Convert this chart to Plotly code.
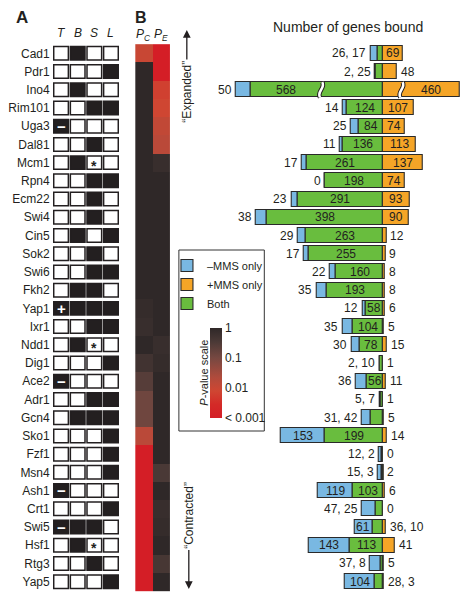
import plotly.graph_objects as go

# ---------------- data ----------------
genes = ["Cad1", "Pdr1", "Ino4", "Rim101", "Uga3", "Dal81", "Mcm1", "Rpn4", "Ecm22", "Swi4",
         "Cin5", "Sok2", "Swi6", "Fkh2", "Yap1", "Ixr1", "Ndd1", "Dig1", "Ace2", "Adr1",
         "Gcn4", "Sko1", "Fzf1", "Msn4", "Ash1", "Crt1", "Swi5", "Hsf1", "Rtg3", "Yap5"]

# Panel A: T, B, S, L membership (1 = filled)
columns_A = ["T", "B", "S", "L"]
col_T = [0, 0, 0, 0, 1, 0, 0, 0, 0, 0, 0, 0, 0, 0, 1, 0, 0, 0, 1, 0, 0, 0, 0, 0, 1, 0, 1, 0, 0, 0]
col_B = [1, 0, 1, 0, 0, 0, 1, 0, 0, 0, 1, 0, 0, 1, 1, 0, 1, 0, 0, 0, 1, 0, 0, 0, 0, 0, 1, 1, 0, 0]
col_S = [0, 0, 0, 1, 0, 1, 0, 1, 1, 1, 0, 1, 1, 1, 1, 1, 0, 0, 0, 1, 1, 0, 0, 0, 0, 0, 1, 0, 1, 0]
col_L = [0, 1, 0, 1, 0, 0, 0, 1, 0, 0, 1, 0, 1, 0, 1, 1, 0, 1, 0, 1, 1, 1, 1, 1, 0, 1, 0, 0, 0, 1]
t_sign = ["", "", "", "", "−", "", "", "", "", "", "", "", "", "", "+", "", "", "", "−", "",
          "", "", "", "", "−", "", "−", "", "", ""]
s_star = [0, 0, 0, 0, 0, 0, 1, 0, 0, 0, 0, 0, 0, 0, 0, 0, 1, 0, 0, 0, 0, 0, 0, 0, 0, 0, 0, 1, 0, 0]

# Panel B: log10 P-values
pc_log10p = [-2.0, 0, 0, 0, 0, 0, 0, 0, 0, 0, 0, 0, 0, 0, -0.1, -0.15, 0, -0.3, -0.6, -0.9,
             -0.9, -1.8, -3, -3, -3, -3, -3, -3, -3, -3]
pe_log10p = [-3, -3, -2.2, -2.1, -1.9, -1.8, -0.15, 0, 0, 0, 0, 0, 0, 0, 0, 0, -0.15, -0.1, 0, 0,
             0, 0, 0, -0.45, 0, -0.15, -0.1, 0, -0.4, 0]
pvalue_tickvals = [0, -1, -2, -3]
pvalue_ticktext = ["1", "0.1", "0.01", "&lt; 0.001"]

# Number of genes bound
minus_mms_only = [26, 2, 50, 14, 25, 11, 17, 0, 23, 38, 29, 17, 22, 35, 12, 35, 30, 2, 36, 5,
                  31, 153, 12, 15, 119, 47, 61, 143, 37, 104]
both = [17, 25, 568, 124, 84, 136, 261, 198, 291, 398, 263, 255, 160, 193, 58, 104, 78, 10, 56, 7,
        42, 199, 2, 3, 103, 25, 36, 113, 8, 28]
plus_mms_only = [69, 48, 460, 107, 74, 113, 137, 74, 93, 90, 12, 9, 8, 8, 6, 5, 15, 1, 11, 1,
                 5, 14, 0, 2, 6, 0, 10, 41, 5, 3]
series_names = ["–MMS only", "+MMS only", "Both"]

# ---------------- layout helpers ----------------
OFF = 8                      # page body margin
W, H = 468 - 2 * OFF, 600 - 2 * OFF
FONT = "Liberation Sans, Arial, Helvetica, sans-serif"
DARK = "#231f20"
BLUE, ORANGE, GREEN = "#79b8e2", "#f5a527", "#69bd3e"


def px(x):
    return (x - OFF) / W


def py(y):
    return 1 - (y - OFF) / H


ROW0, PITCH = 53.3, 18.22
n = len(genes)
rows = list(range(n))
y_range = [(H - (ROW0 - OFF)) / PITCH, -(ROW0 - OFF) / PITCH]

CENTER_PX, SCALE, X3_L, X3_R = 382.3, 0.293, 190, 460
x3_range = [(X3_L - CENTER_PX) / SCALE, (X3_R - CENTER_PX) / SCALE]
GREEN_CAP, ORANGE_CAP = 455, 265       # axis break: displayed length caps
BREAK_G_X, BREAK_O_X = -212, 64       # position of the break marks

g_disp = [min(v, GREEN_CAP) for v in both]
o_disp = [min(v, ORANGE_CAP) for v in plus_mms_only]

fig = go.Figure()

# anchor trace for panel A axes
fig.add_trace(go.Scatter(x=[0], y=[0], xaxis="x", yaxis="y", mode="markers",
                         marker=dict(opacity=0), showlegend=False, hoverinfo="skip"))

# Panel B heatmap
fig.add_trace(go.Heatmap(
    z=[[pc_log10p[i], pe_log10p[i]] for i in rows], x=[0, 1], y=rows,
    xaxis="x2", yaxis="y", zmin=-3, zmax=0,
    colorscale=[[0, "#d41e26"], [0.15, "#d42a27"], [0.3, "#cf4632"], [0.45, "#b04b3c"],
                [0.67, "#764841"], [0.85, "#4a3936"], [1, "#2f2828"]],
    showscale=True, hoverinfo="skip",
    colorbar=dict(x=px(208), xanchor="left", y=py(373), yanchor="middle",
                  len=90, lenmode="pixels", thickness=12, thicknessmode="pixels",
                  outlinewidth=0, tickvals=pvalue_tickvals, ticktext=pvalue_ticktext,
                  ticks="", tickfont=dict(size=12, color=DARK, family=FONT), xpad=0, ypad=0)))

edge = dict(color="#2a2a2a", width=1.1)
fig.add_trace(go.Bar(name=series_names[0], y=rows, x=minus_mms_only,
                     base=[-(g + b) for g, b in zip(g_disp, minus_mms_only)],
                     orientation="h", xaxis="x3", yaxis="y", width=0.82, opacity=1,
                     marker=dict(color=BLUE, line=edge), hoverinfo="skip"))
fig.add_trace(go.Bar(name=series_names[1], y=rows, x=o_disp, base=[0] * n,
                     orientation="h", xaxis="x3", yaxis="y", width=0.82, opacity=1,
                     marker=dict(color=ORANGE, line=edge), hoverinfo="skip"))
fig.add_trace(go.Bar(name=series_names[2], y=rows, x=g_disp, base=[-g for g in g_disp],
                     orientation="h", xaxis="x3", yaxis="y", width=0.82, opacity=1,
                     marker=dict(color=GREEN, line=edge), hoverinfo="skip"))

shapes = []
annotations = []


def paper_text(x, y, text, size=12, angle=0, **kw):
    d = dict(x=px(x), y=py(y), xref="paper", yref="paper", text=text, showarrow=False,
             xanchor="center", yanchor="middle", textangle=angle,
             font=dict(size=size, color=DARK, family=FONT))
    d.update(kw)
    annotations.append(d)


# Panel A cells
cols = [col_T, col_B, col_S, col_L]
for c, col in enumerate(cols):
    for i in rows:
        filled = col[i] == 1
        shapes.append(dict(type="rect", xref="x", yref="y",
                           x0=c - 0.44, x1=c + 0.44, y0=i - 0.37, y1=i + 0.37,
                           fillcolor=DARK if filled else "white",
                           line=dict(color=DARK, width=1.5), layer="above"))
for i in rows:
    if t_sign[i]:
        annotations.append(dict(x=0, y=i, xref="x", yref="y", text="<b>%s</b>" % t_sign[i],
                                showarrow=False, font=dict(size=15, color="white", family=FONT)))
    if s_star[i]:
        annotations.append(dict(x=2, y=i, xref="x", yref="y", text="<b>*</b>", yshift=-3,
                                showarrow=False, font=dict(size=14, color=DARK, family=FONT)))
for c, name in enumerate(columns_A):
    annotations.append(dict(x=c, y=py(33), xref="x", yref="paper", text="<i>%s</i>" % name,
                            xanchor="center", yanchor="middle",
                            showarrow=False, font=dict(size=12, color=DARK, family=FONT)))
for c, name in enumerate(["C", "E"]):
    annotations.append(dict(x=c, y=py(35), xref="x2", yref="paper",
                            text="<i>P</i><sub><i>%s</i></sub>" % name,
                            xanchor="center", yanchor="middle",
                            showarrow=False, font=dict(size=12, color=DARK, family=FONT)))

# panel letters, title
paper_text(19, 18, "<b>A</b>", size=17)
paper_text(139, 17, "<b>B</b>", size=16)
paper_text(347, 27, "Number of genes bound", size=14)

# Expanded / Contracted (arrow drawn from the label to the tip)
annotations.append(dict(x=px(185), y=py(30), xref="paper", yref="paper", text="“Expanded”",
                        textangle=-90, showarrow=True, ax=0, ay=62, arrowhead=2,
                        arrowsize=1.2, arrowwidth=1.3, arrowcolor=DARK, standoff=0,
                        font=dict(size=12, color=DARK, family=FONT)))
annotations.append(dict(x=px(187), y=py(589), xref="paper", yref="paper", text="“Contracted”",
                        textangle=-90, showarrow=True, ax=0, ay=-74, arrowhead=2,
                        arrowsize=1.2, arrowwidth=1.3, arrowcolor=DARK, standoff=0,
                        font=dict(size=12, color=DARK, family=FONT)))

# bar labels
for i in rows:
    b, g, o = minus_mms_only[i], both[i], plus_mms_only[i]
    gd, od = g_disp[i], o_disp[i]
    blue_in, green_in, orange_in = b >= 60, g >= 56, o >= 69
    left, right = [], []
    if not blue_in:
        left.append(str(b))
    if not green_in:
        (right if blue_in else left).append(str(g))
    if not orange_in:
        right.append(str(o))
    f = dict(size=12, color=DARK, family=FONT)
    if blue_in:
        annotations.append(dict(x=-(gd + b / 2), y=i, xref="x3", yref="y", text=str(b),
                                showarrow=False, font=f))
    if green_in:
        gx = (-gd + BREAK_G_X) / 2 if g > GREEN_CAP else -gd / 2
        annotations.append(dict(x=gx, y=i, xref="x3", yref="y", text=str(g),
                                showarrow=False, font=f))
    if orange_in:
        ox = (od + BREAK_O_X) / 2 if o > ORANGE_CAP else od / 2
        annotations.append(dict(x=ox, y=i, xref="x3", yref="y", text=str(o),
                                showarrow=False, font=f))
    if left:
        annotations.append(dict(x=-(gd + b), y=i, xref="x3", yref="y", text=", ".join(left),
                                xanchor="right", xshift=-2, showarrow=False, font=f))
    if right:
        annotations.append(dict(x=od, y=i, xref="x3", yref="y", text=", ".join(right),
                                xanchor="left", xshift=2, showarrow=False, font=f))
    # axis-break marks
    for bx, broken in ((BREAK_G_X, g > GREEN_CAP), (BREAK_O_X, o > ORANGE_CAP)):
        if not broken:
            continue
        path = "M %f,%f C %f,%f %f,%f %f,%f" % (bx + 4, i - 0.42, bx + 16, i - 0.1,
                                               bx - 16, i + 0.1, bx - 4, i + 0.42)
        shapes.append(dict(type="path", xref="x3", yref="y", path=path,
                           line=dict(color=DARK, width=4.5), layer="above"))
        shapes.append(dict(type="path", xref="x3", yref="y", path=path,
                           line=dict(color="white", width=2.5), layer="above"))

# legend box
shapes.append(dict(type="rect", xref="paper", yref="paper", x0=px(177), x1=px(263),
                   y0=py(431), y1=py(250), line=dict(color="#333333", width=1),
                   fillcolor="rgba(0,0,0,0)", layer="above"))
paper_text(202, 373, "<i>P</i>-value scale", size=11, angle=-90)

noax = dict(visible=False, showgrid=False, zeroline=False, fixedrange=True)
fig.update_layout(
    width=W, height=H, margin=dict(l=0, r=0, t=0, b=0),
    paper_bgcolor="white", plot_bgcolor="white",
    font=dict(family=FONT, color=DARK, size=12),
    barmode="overlay", bargap=0,
    showlegend=True,
    legend=dict(x=px(165), y=py(251), xanchor="left", yanchor="top",
                bgcolor="rgba(0,0,0,0)", borderwidth=0, traceorder="normal",
                font=dict(size=11, color=DARK, family=FONT), itemwidth=30,
                tracegroupgap=0),
    xaxis=dict(domain=[px(50), px(117)], range=[-0.5, 3.5], anchor="y", **noax),
    xaxis2=dict(domain=[px(133), px(168)], range=[-0.5, 1.5], anchor="y", **noax),
    xaxis3=dict(domain=[px(X3_L), px(X3_R)], range=x3_range, anchor="y", **noax),
    yaxis=dict(domain=[0, 1], range=y_range, anchor="x", tickvals=rows, ticktext=genes,
               showgrid=False, zeroline=False, showline=False, ticks="",
               ticklabelstandoff=2, tickfont=dict(size=12, color=DARK, family=FONT),
               fixedrange=True),
    shapes=shapes, annotations=annotations,
)

fig.write_html("out.html")
